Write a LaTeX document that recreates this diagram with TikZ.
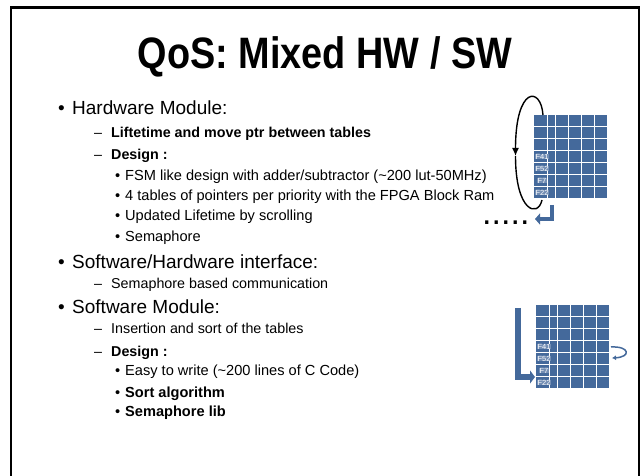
\documentclass[tikz,border=0pt]{standalone}
\usepackage{fontspec}
\setmainfont{Liberation Sans}
\newfontfamily\titlefont{Liberation Sans}[FakeStretch=0.86]
\usetikzlibrary{arrows.meta, positioning}
\definecolor{tblblue}{HTML}{44699B}
\tikzstyle{frame}     = [line width=2.5pt]
\tikzstyle{titletext} = [inner sep=0pt, font=\titlefont\bfseries\fontsize{44}{48}\selectfont]
\tikzstyle{lvlone}    = [anchor=base west, inner sep=0pt, font=\fontsize{19}{22}\selectfont]
\tikzstyle{lvltwo}    = [anchor=base west, inner sep=0pt, font=\fontsize{14.3}{17}\selectfont]
\tikzstyle{lvlthree}  = [anchor=base west, inner sep=0pt, font=\fontsize{14.6}{17}\selectfont]
\tikzstyle{tag}       = [inner sep=0.3pt, fill=tblblue!75!white, text=white,
    font=\fontsize{7.5}{8}\selectfont]
\tikzstyle{loop}      = [line width=1.4pt]
\tikzstyle{bluearrow} = [line width=4pt, tblblue, -{Triangle[length=5pt, width=11pt]}]
% one pointer table, origin at its top left cell
\newcommand{\qtable}[1]{%
  \begin{scope}[shift={#1}]
    \foreach \r in {0,...,6}
      \foreach \a/\b in {0/13, 14/21, 22/34, 35/47, 48/60, 61/73}
        \fill[tblblue] (\a,{12*\r}) rectangle (\b,{12*\r+11});
    \foreach \r/\t in {3/F41, 4/F52, 5/F7, 6/F22}
      \node[tag] at (8,{12*\r+5.5}) {\t};
  \end{scope}}

\begin{document}
\begin{tikzpicture}[x=1pt, y=-1pt]
  \useasboundingbox (0,0) rectangle (641,476);

  % Slide frame and title
  \draw[frame] (11,476) -- (11,7.5) -- (639,7.5) -- (639,476);
  \node[titletext] (title) at (325,57) {QoS: Mixed HW / SW};

  % Hardware part
  \node[lvlone]   at (58,115)  {\textbullet};
  \node[lvlone]   (hw) at (72,115)  {Hardware Module:};
  \node[lvltwo]   at (94,138)  {--};
  \node[lvltwo]   (hwlife) at (111,138) {\bfseries Liftetime and move ptr between tables};
  \node[lvltwo]   at (94,160)  {--};
  \node[lvltwo]   (hwdesign) at (111,160) {\bfseries Design :};
  \node[lvlthree] at (115,181) {\textbullet};
  \node[lvlthree] (fsm) at (125,181) {FSM like design with adder/subtractor (\textasciitilde200 lut-50MHz)};
  \node[lvlthree] at (115,201) {\textbullet};
  \node[lvlthree] (ram) at (125,201) {4 tables of pointers per priority with the FPGA Block Ram};
  \node[lvlthree] at (115,221) {\textbullet};
  \node[lvlthree] (scroll) at (125,221) {Updated Lifetime by scrolling};
  \node[lvlthree] at (115,242) {\textbullet};
  \node[lvlthree] (hwsem) at (125,242) {Semaphore};

  % Interface
  \node[lvlone]   at (58,269)  {\textbullet};
  \node[lvlone]   (iface) at (72,269)  {Software/Hardware interface:};
  \node[lvltwo]   at (94,289)  {--};
  \node[lvltwo]   (comm) at (111,289) {Semaphore based communication};

  % Software part
  \node[lvlone]   at (58,313)  {\textbullet};
  \node[lvlone]   (sw) at (72,313)  {Software Module:};
  \node[lvltwo]   at (94,334)  {--};
  \node[lvltwo]   (insert) at (111,334) {Insertion and sort of the tables};
  \node[lvltwo]   at (94,356)  {--};
  \node[lvltwo]   (swdesign) at (111,356) {\bfseries Design :};
  \node[lvlthree] at (115,376) {\textbullet};
  \node[lvlthree] (easy) at (125,376) {Easy to write (\textasciitilde200 lines of C Code)};
  \node[lvlthree] at (115,397) {\textbullet};
  \node[lvlthree] (sort) at (125,397) {\bfseries Sort algorithm};
  \node[lvlthree] at (115,417) {\textbullet};
  \node[lvlthree] (swsem) at (125,417) {\bfseries Semaphore lib};

  % Hardware table with scrolling loop
  \qtable{(534,115)}
  \coordinate (loopin)  at (543,115);
  \coordinate (loopmid) at (515.5,156);
  \coordinate (loopout) at (542,200);
  \draw[loop, -{Latex[length=8pt, width=7pt]}] (loopin) .. controls (541,86) and (515.5,86) .. (loopmid);
  \draw[loop] (loopmid) .. controls (515.5,212) and (538,218) .. (loopout);
  \coordinate (hwdrop) at (551.5,205);
  \coordinate (hwback) at (535,219);
  \draw[bluearrow] (hwdrop) |- (hwback);
  \node[anchor=base west, inner sep=0pt, font=\fontsize{34}{36}\selectfont] (dots) at (482,225) {.....};

  % Software table with sorting arrows
  \qtable{(536,305)}
  \coordinate (swdrop) at (517.5,308);
  \coordinate (swin)   at (535,377);
  \draw[bluearrow, line width=6pt, -{Triangle[length=5pt, width=13pt]}] (swdrop) |- (swin);
  \coordinate (swapout) at (611,347);
  \coordinate (swapin)  at (612,358);
  \draw[tblblue, line width=1.5pt, -{Latex[length=4pt, width=5pt]}] (swapout) .. controls (630,346) and (631,357) .. (swapin);
\end{tikzpicture}
\end{document}
